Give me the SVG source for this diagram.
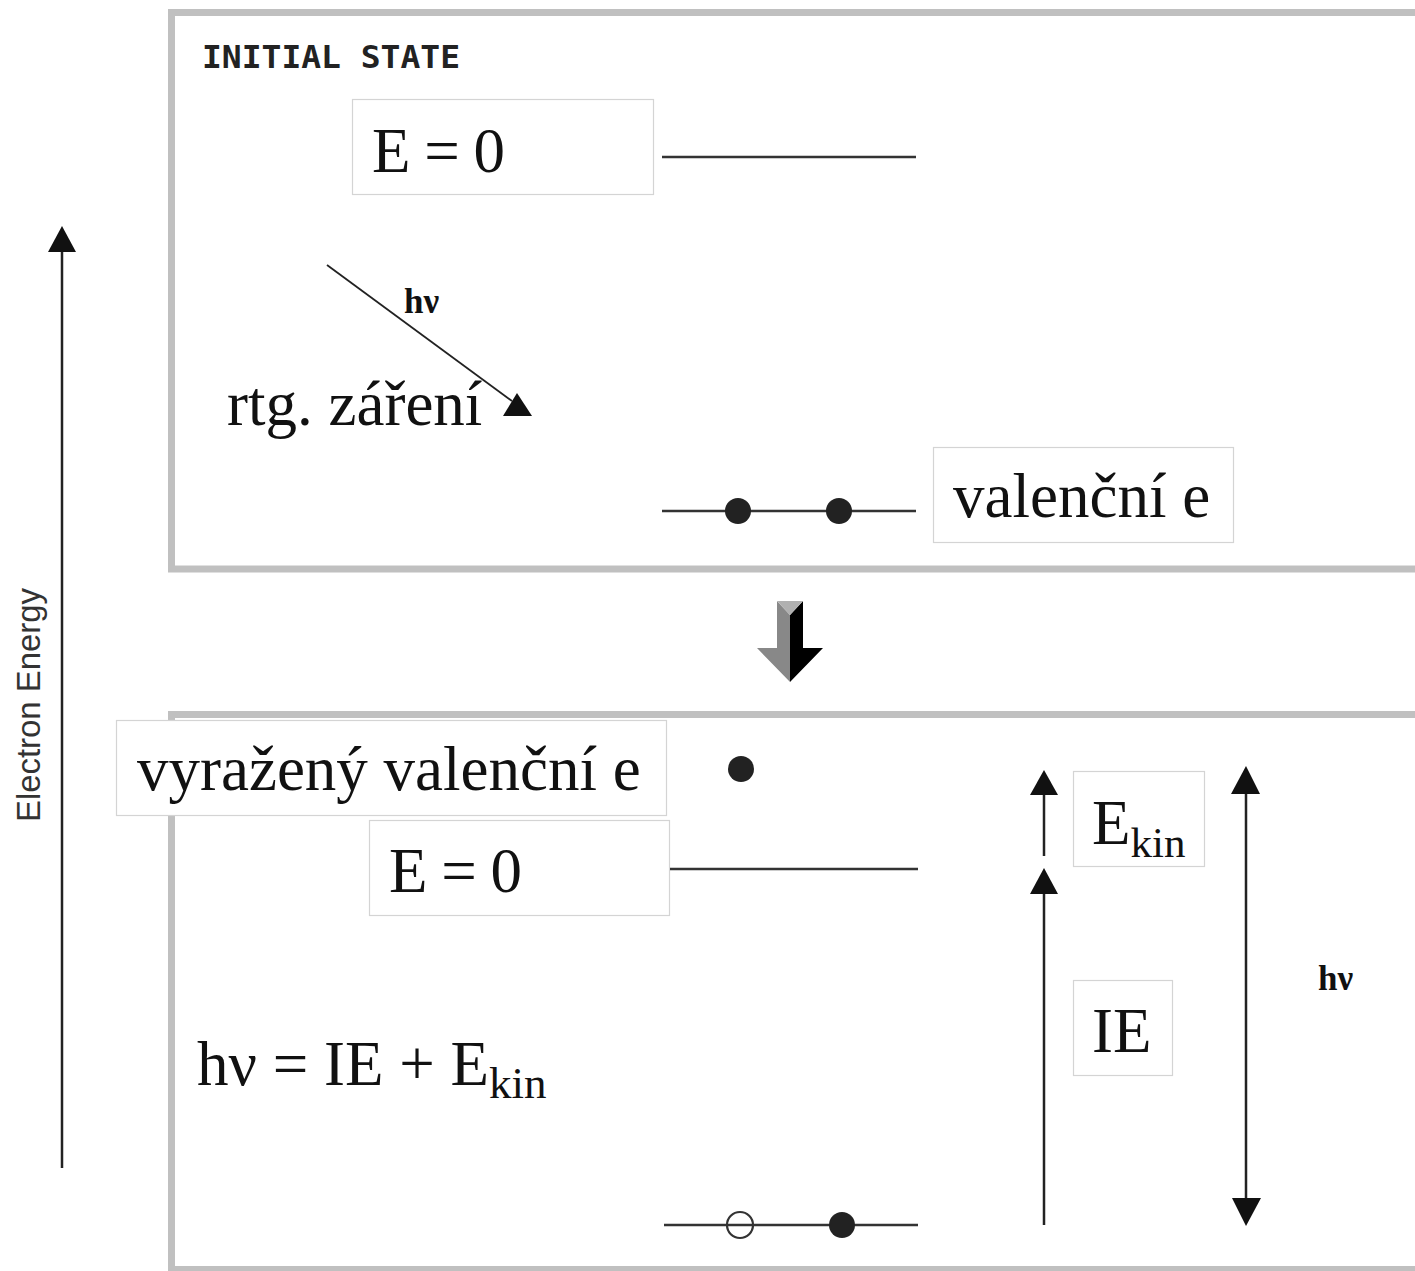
<svg xmlns="http://www.w3.org/2000/svg" width="1415" height="1271" viewBox="0 0 1415 1271">
<style>
.frame{fill:none;stroke:#c0c0c0;stroke-width:7}
.box{fill:#fff;stroke:#d4d4d4;stroke-width:1.2}
.t{font-family:"Liberation Serif","Times New Roman",serif;font-size:63px;fill:#111}
.eq{word-spacing:-2px}
.sub{font-size:43px}
.lvl{stroke:#333;stroke-width:2.5;fill:none}
.ln{stroke:#222;stroke-width:2.5;fill:none}
.dot{fill:#222}
.hv{font-family:"Liberation Serif",serif;font-weight:bold;font-size:35px;fill:#111}
</style>
<rect width="1415" height="1271" fill="#fff"/>
<g id="frame-initial"><rect class="frame" x="171.5" y="12.5" width="1300" height="556.5"/></g>
<g id="frame-final"><rect class="frame" x="171.5" y="714.5" width="1300" height="555"/></g>
<g id="title"><text x="202" y="68" font-family="'DejaVu Sans Mono',monospace" font-weight="bold" font-size="32" fill="#222" textLength="258" lengthAdjust="spacingAndGlyphs">INITIAL STATE</text></g>
<g id="axis">
<line class="ln" x1="62" y1="1168" x2="62" y2="248"/>
<polygon points="62,226 48,252 76,252" fill="#111"/>
<text x="0" y="0" transform="translate(40,705) rotate(-90)" text-anchor="middle" font-family="'Liberation Sans',Arial,sans-serif" font-size="34" fill="#333" textLength="234" lengthAdjust="spacingAndGlyphs">Electron Energy</text>
</g>
<g id="e0-top">
<rect class="box" x="352.5" y="99.5" width="301" height="95"/>
<text class="t eq" x="372" y="172">E = 0</text>
</g>
<g id="level-vacuum-top"><line class="lvl" x1="662" y1="157" x2="916" y2="157"/></g>
<g id="xray">
<text class="t" x="227" y="425">rtg. záření</text>
<text class="hv" x="404" y="313">hν</text>
</g>
<g id="level-valence-top">
<line class="lvl" x1="662" y1="511" x2="916" y2="511"/>
<circle class="dot" cx="738" cy="511" r="13"/>
<circle class="dot" cx="839" cy="511" r="13"/>
</g>
<g id="valence-label">
<rect class="box" x="933.5" y="447.5" width="300" height="95"/>
<text class="t" x="953" y="517">valenční e</text>
</g>
<g id="transition-arrow">
<polygon points="777,601 790,615 790,682 757,648 777,648" fill="#888"/>
<polygon points="803,601 790,615 790,682 823,648 803,648" fill="#000"/>
<polygon points="777,601 803,601 790,615" fill="#b0b0b0"/>
</g>
<g id="ejected-label">
<rect class="box" x="116.5" y="720.5" width="550" height="95"/>
<text class="t" x="137" y="790">vyražený valenční e</text>
</g>
<g id="ejected-electron"><circle class="dot" cx="741" cy="769" r="13"/></g>
<g id="e0-bottom">
<rect class="box" x="369.5" y="820.5" width="300" height="95"/>
<text class="t eq" x="389" y="892">E = 0</text>
</g>
<g id="level-vacuum-bottom"><line class="lvl" x1="670" y1="869" x2="918" y2="869"/></g>
<g id="level-valence-bottom">
<line class="lvl" x1="664" y1="1225" x2="918" y2="1225"/>
<circle cx="740" cy="1225" r="13" fill="none" stroke="#333" stroke-width="2.2"/>
<circle class="dot" cx="842" cy="1225" r="13"/>
</g>
<g id="ekin-label">
<rect class="box" x="1073.5" y="771.5" width="131" height="95"/>
<text class="t" x="1092" y="844">E<tspan class="sub" dy="13">kin</tspan></text>
</g>
<g id="ie-label">
<rect class="box" x="1073.5" y="980.5" width="99" height="95"/>
<text class="t" x="1092" y="1052">IE</text>
</g>
<g id="equation"><text class="t" x="197" y="1085" font-size="65">hν = IE + E<tspan font-size="45" dy="13">kin</tspan></text></g>
<g id="hv-right-label"><text class="hv" x="1318" y="990">hν</text></g>
<g id="connectors">
<line x1="327" y1="265" x2="512" y2="401" stroke="#222" stroke-width="1.8"/>
<polygon points="517,393 503,416 532,416" fill="#111"/>
<line class="ln" x1="1044" y1="856" x2="1044" y2="792"/>
<polygon points="1044,770 1030,795 1058,795" fill="#111"/>
<line class="ln" x1="1044" y1="1225" x2="1044" y2="893"/>
<polygon points="1044,868 1030,894 1058,894" fill="#111"/>
<line class="ln" x1="1246" y1="792" x2="1246" y2="1200"/>
<polygon points="1246,766 1231,794 1260,794" fill="#111"/>
<polygon points="1246,1226 1232,1198 1261,1198" fill="#111"/>
</g>
</svg>
